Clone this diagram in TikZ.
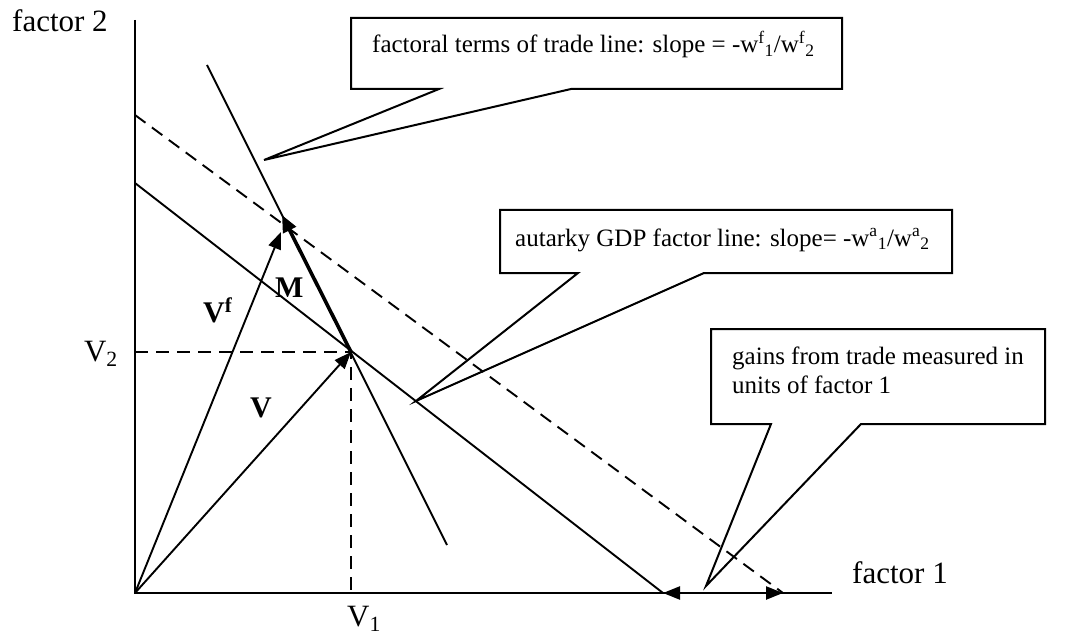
\documentclass[tikz,border=0pt]{standalone}
\usepackage{fontspec}
\setmainfont{Liberation Serif}
\usetikzlibrary{arrows.meta}
\begin{document}
\begin{tikzpicture}[x=1pt,y=-1pt,
  ln/.style={line width=1.9pt},
  dsh/.style={line width=1.9pt, dash pattern=on 13pt off 8pt},
  vec/.style={line width=1.9pt,-{Triangle[length=17pt,width=13pt]}},
  mvec/.style={line width=3.6pt,-{Triangle[length=17pt,width=14pt]}},
  gain/.style={line width=2.4pt,{Triangle[length=17pt,width=13pt]}-{Triangle[length=17pt,width=13pt]}},
  callout/.style={line width=2pt, line join=miter},
  boxtxt/.style={font=\fontsize{25}{29}\selectfont, anchor=base west, inner sep=0pt},
  axlab/.style={font=\fontsize{31}{36}\selectfont, inner sep=0pt},
  bl/.style={font=\fontsize{30}{34}\selectfont\bfseries, anchor=base west, inner sep=0pt}]
\useasboundingbox (0,0) rectangle (1065,639);
% points
\coordinate (O) at (135,593);
\coordinate (Ytop) at (135,20);
\coordinate (Xend) at (832,593);
\coordinate (V) at (351,352);
\coordinate (Vf) at (281,232);
\coordinate (Mt) at (282,215);
\coordinate (S1) at (207,65);
\coordinate (S2) at (447,545);
\coordinate (A1) at (135,183);
\coordinate (A2) at (663,593);
\coordinate (D1) at (135,115);
\coordinate (D2) at (783,593);
\coordinate (Y2) at (135,352);
\coordinate (X1) at (351,593);
% axes
\draw[ln] (Ytop) -- (O) -- (Xend);
% lines
\draw[ln] (S1) -- (S2);
\draw[ln] (A1) -- (A2);
\draw[dsh] (D1) -- (D2);
\draw[dsh] (Y2) -- (V) -- (X1);
% vectors
\draw[vec] (O) -- (V);
\draw[vec] (O) -- (Vf);
\draw[mvec] (V) -- (Mt);
\draw[gain] (A2) -- (D2);
% labels
\node[axlab, anchor=base west] (f2) at (12,32) {factor 2};
\node[axlab, anchor=base west] (f1) at (852,583) {factor 1};
\node[axlab, anchor=base east] (v2) at (118,361) {V\textsubscript{2}};
\node[axlab, anchor=base west] (v1) at (347,626) {V\textsubscript{1}};
\node[bl] (lVf) at (203,322) {V\textsuperscript{f}};
\node[bl] (lM) at (275,297) {M};
\node[bl] (lV) at (250,417) {V};
% callout 1
\draw[callout] (351,18) -- (842,18) -- (842,89) -- (571,89) -- (264,160) -- (439,89) -- (351,89) -- cycle;
\node[boxtxt] (t1) at (372,53) {factoral terms of trade line: slope = -w\textsuperscript{f}\textsubscript{1}/w\textsuperscript{f}\textsubscript{2}};
% callout 2
\draw[callout] (500,210) -- (952,210) -- (952,273) -- (704,273) -- (416,401) -- (578,273) -- (500,273) -- cycle;
\node[boxtxt] (t2) at (515,246) {autarky GDP factor line: slope= -w\textsuperscript{a}\textsubscript{1}/w\textsuperscript{a}\textsubscript{2}};
% callout 3
\draw[callout] (711,329) -- (1045,329) -- (1045,424) -- (861,424) -- (706,586) -- (771,424) -- (711,424) -- cycle;
\node[boxtxt] (t3a) at (732,364) {gains from trade measured in};
\node[boxtxt] (t3b) at (732,393) {units of factor 1};
\end{tikzpicture}
\end{document}
